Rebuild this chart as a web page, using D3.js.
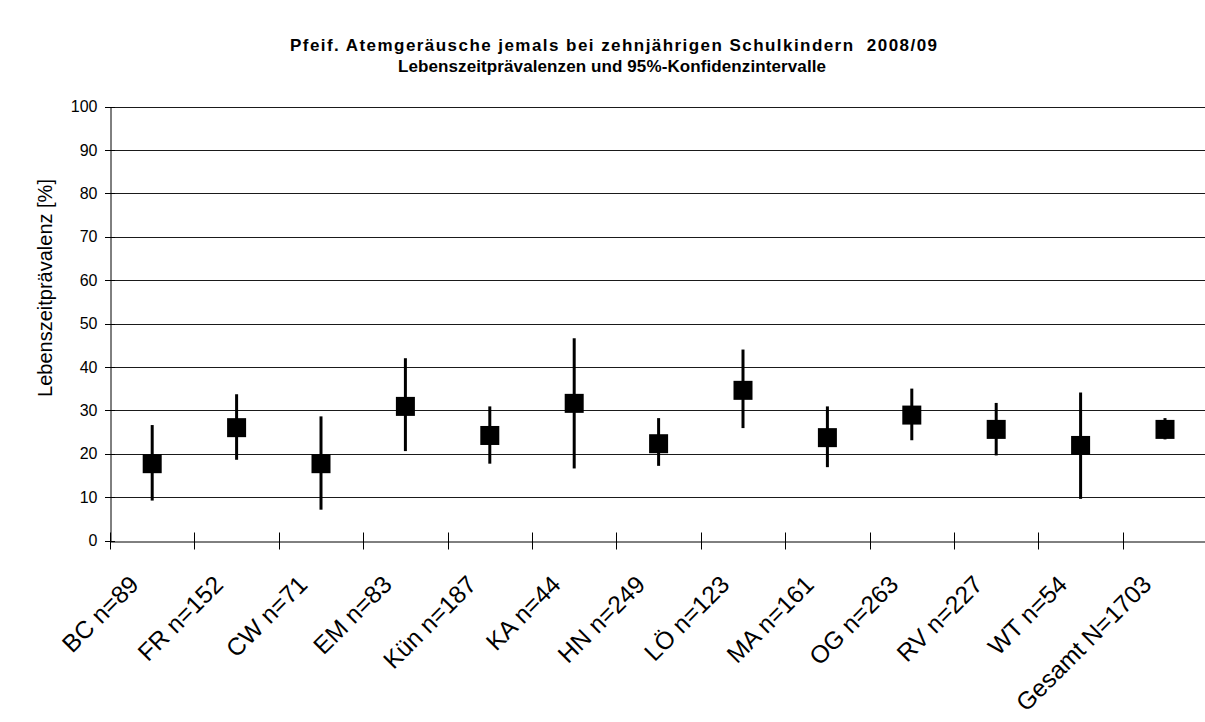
<!DOCTYPE html>
<html><head><meta charset="utf-8">
<script src="https://cdn.jsdelivr.net/npm/d3@7"></script>
<style>body{margin:0;background:#fff}svg{display:block}text{font-family:"Liberation Sans",Arial,sans-serif}</style>
</head><body><svg id="c" width="1205" height="722"></svg>
<script>
const categories = ["BC n=89","FR n=152","CW n=71","EM n=83","Kün n=187","KA n=44","HN n=249","LÖ n=123","MA n=161","OG n=263","RV n=227","WT n=54","Gesamt N=1703"];
const prevalence = [17.7, 26.0, 17.7, 30.9, 24.2, 31.6, 22.3, 34.6, 23.7, 28.9, 25.6, 21.9, 25.6];
const ciLower = [9.2, 18.6, 7.1, 20.6, 17.7, 16.6, 17.2, 25.9, 16.9, 23.1, 19.6, 9.6, 23.3];
const ciUpper = [26.6, 33.7, 28.6, 42.0, 30.9, 46.6, 28.2, 44.0, 30.9, 35.0, 31.7, 34.1, 28.2];
const yTicks = [0,10,20,30,40,50,60,70,80,90,100];
const titleLines = ["Pfeif. Atemgeräusche jemals bei zehnjährigen Schulkindern  2008/09","Lebenszeitprävalenzen und 95%-Konfidenzintervalle"];
const yTitle = "Lebenszeitprävalenz [%]";

const svg = d3.select("#c");
const x0 = 110, bw = 84.4;
const x = d3.scaleBand().domain(categories).range([x0, x0 + bw*categories.length]).padding(0);
const y = d3.scaleLinear().domain([0,100]).range([540.5,106.5]);
const xr = x.range()[1];

// gridlines
svg.append("g").selectAll("line").data(yTicks.filter(d=>d>0)).join("line")
  .attr("x1", x0).attr("x2", xr).attr("y1", d=>Math.round(y(d))+0.5).attr("y2", d=>Math.round(y(d))+0.5)
  .attr("stroke","#1a1a1a").attr("stroke-width",1);

// y axis
const yAxis = d3.axisLeft(y).tickValues(yTicks).tickSize(0).tickPadding(13);
const gy = svg.append("g").attr("transform",`translate(${x0+0.5},0)`).call(yAxis);
gy.select(".domain").attr("stroke","#000");
gy.selectAll("text").attr("font-size",16).attr("fill","#000");
svg.append("g").selectAll("line").data(yTicks).join("line")
  .attr("x1", x0-5).attr("x2", x0+5).attr("y1", d=>Math.round(y(d))+0.5).attr("y2", d=>Math.round(y(d))+0.5)
  .attr("stroke","#000");

// x axis
const gx = svg.append("g").attr("transform",`translate(0,${Math.round(y(0))+0.5})`)
  .call(d3.axisBottom(x).tickSize(0).tickFormat(""));
gx.select(".domain").attr("stroke","#000");
const bounds = d3.range(categories.length+1).map(i=>x0 + i*bw);
svg.append("g").selectAll("line").data(bounds).join("line")
  .attr("x1", d=>Math.round(d)+0.5).attr("x2", d=>Math.round(d)+0.5)
  .attr("y1", y(0)-8).attr("y2", y(0)+9).attr("stroke","#000");

// x labels
svg.append("g").selectAll("text").data(categories).join("text")
  .attr("transform", d=>`translate(${x(d)+x.bandwidth()/2-12},586) rotate(-45)`)
  .attr("text-anchor","end").attr("font-size",24.5).attr("fill","#000").text(d=>d);

// error bars
const cx = i => x(categories[i]) + x.bandwidth()/2;
svg.append("g").selectAll("line").data(prevalence).join("line")
  .attr("x1",(d,i)=>cx(i)).attr("x2",(d,i)=>cx(i))
  .attr("y1",(d,i)=>y(ciLower[i])).attr("y2",(d,i)=>y(ciUpper[i]))
  .attr("stroke","#000").attr("stroke-width",3);
const s = 19;
svg.append("g").selectAll("rect").data(prevalence).join("rect")
  .attr("x",(d,i)=>cx(i)-s/2).attr("y",d=>y(d)-s/2).attr("width",s).attr("height",s).attr("fill","#000");

// titles
svg.append("text").attr("x",290).attr("y",51).attr("font-weight","bold").attr("font-size",17)
  .attr("textLength",647).attr("lengthAdjust","spacing").attr("xml:space","preserve").text(titleLines[0]);
svg.append("text").attr("x",398).attr("y",72).attr("font-weight","bold").attr("font-size",17)
  .attr("textLength",428).attr("lengthAdjust","spacing").text(titleLines[1]);
svg.append("text").attr("transform","translate(52,288) rotate(-90)").attr("text-anchor","middle").attr("font-size",20).text(yTitle);
</script></body></html>
